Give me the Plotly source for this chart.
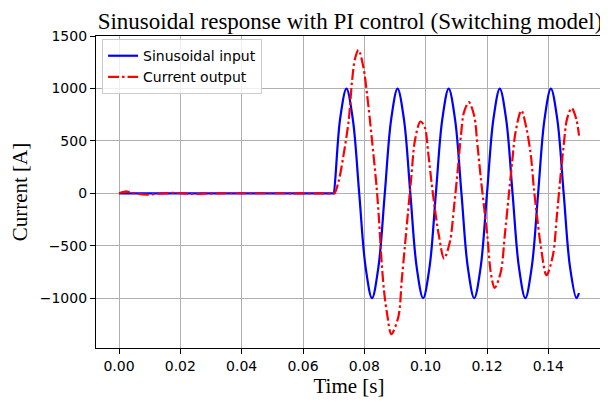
import plotly.graph_objects as go

# Sinusoidal input
t_in = [0.0, 0.06990, 0.07000, 0.07208, 0.07417, 0.07625, 0.07833, 0.08042, 0.08250, 0.08458,
        0.08667, 0.08875, 0.09083, 0.09292, 0.09500, 0.09708, 0.09917, 0.10125,
        0.10333, 0.10542, 0.10750, 0.10958, 0.11167, 0.11375, 0.11583, 0.11792,
        0.12000, 0.12208, 0.12417, 0.12625, 0.12833, 0.13042, 0.13250, 0.13458,
        0.13667, 0.13875, 0.14083, 0.14292, 0.14500, 0.14708, 0.14917, 0.15000]
i_in = [0, 0, 0, 707, 1000, 707, 0, -707, -1000, -707,
        0, 707, 1000, 707, 0, -707, -1000, -707,
        0, 707, 1000, 707, 0, -707, -1000, -707,
        0, 707, 1000, 707, 0, -707, -1000, -707,
        0, 707, 1000, 707, 0, -707, -1000, -951]

# Current output
t_out = [0.0, 0.002, 0.005, 0.009, 0.013, 0.018, 0.024, 0.030, 0.0690, 0.0700, 0.0703,
         0.0717, 0.0732, 0.0749, 0.0760, 0.0770, 0.0781, 0.0797, 0.0810, 0.0824,
         0.0840, 0.0848, 0.0856, 0.0864, 0.0874, 0.0888, 0.0911, 0.0922, 0.0932,
         0.0942, 0.0953, 0.0965, 0.0983, 0.0997, 0.1008, 0.1019, 0.1030, 0.1043,
         0.1060, 0.1079, 0.1093, 0.1104, 0.1115, 0.1125, 0.1141, 0.1158, 0.1169,
         0.1180, 0.1191, 0.1202, 0.1212, 0.1225, 0.1245, 0.1258, 0.1271, 0.1282,
         0.1293, 0.1312, 0.1329, 0.1343, 0.1353, 0.1364, 0.1375, 0.1394, 0.1415,
         0.1428, 0.1439, 0.1450, 0.1461, 0.1476, 0.1491, 0.1500]
i_out = [0, 18, 2, -12, -2, 4, -5, 0, 0, 0, 0,
         124, 362, 695, 1076, 1290, 1368, 1203, 917, 536,
         60, -257, -638, -924, -1146, -1343, -1178, -829, -511,
         -194, 150, 505, 686, 632, 393, 108, -146, -400,
         -622, -463, -114, 203, 552, 775, 870, 743, 457,
         140, -146, -432, -750, -902, -750, -400, -19, 298,
         584, 790, 616, 362, 44, -241, -495, -781, -590,
         -210, 140, 457, 711, 813, 711, 552]

x_ticks = [0.00, 0.02, 0.04, 0.06, 0.08, 0.10, 0.12, 0.14]
y_ticks = [-1000, -500, 0, 500, 1000, 1500]

fig = go.Figure()
fig.add_trace(go.Scatter(x=t_in, y=i_in, mode="lines", name="Sinusoidal input",
                         line=dict(color="#0000ff", width=2.2, shape="spline", smoothing=1.0)))
fig.add_trace(go.Scatter(x=t_out, y=i_out, mode="lines", name="Current output",
                         line=dict(color="#ff0000", width=2.2, dash="11px,3px,2.5px,3px",
                                   shape="spline", smoothing=0.9)))

axis_common = dict(showgrid=True, gridcolor="#b0b0b0", gridwidth=1, zeroline=False,
                   showline=True, linecolor="black", linewidth=1.2, mirror=True,
                   ticks="outside", ticklen=5, tickwidth=1, tickcolor="black",
                   automargin=False, layer="below traces",
                   tickfont=dict(family="DejaVu Sans", size=14, color="black"))

fig.update_xaxes(range=[-0.0075, 0.1575], tickvals=x_ticks, tickformat=".2f",
                 title=dict(text="Time [s]", font=dict(family="Liberation Serif", size=21, color="black"),
                            standoff=2),
                 **axis_common)
fig.update_yaxes(range=[-1476, 1502], tickvals=y_ticks,
                 title=dict(text="Current [A]", font=dict(family="Liberation Serif", size=21, color="black"),
                            standoff=6),
                 **axis_common)

# the page adds an 8 px body margin, so the figure is drawn 8 px in from the top-left
fig.update_layout(
    template="none",
    width=600, height=395,
    margin=dict(l=88, r=6, t=28, b=55),
    paper_bgcolor="white", plot_bgcolor="white",
    title=dict(text="Sinusoidal response with PI control (Switching model)",
               font=dict(family="Liberation Serif", size=23, color="black"),
               x=0.57, xanchor="center", y=0.968, yanchor="middle", xref="container", yref="container"),
    legend=dict(x=0.012, y=0.99, xanchor="left", yanchor="top",
                bgcolor="rgba(255,255,255,0.8)", bordercolor="#cccccc", borderwidth=1,
                font=dict(family="DejaVu Sans", size=14, color="black"), itemwidth=30,
                tracegroupgap=0),
    showlegend=True,
)

fig.write_html("out.html")
